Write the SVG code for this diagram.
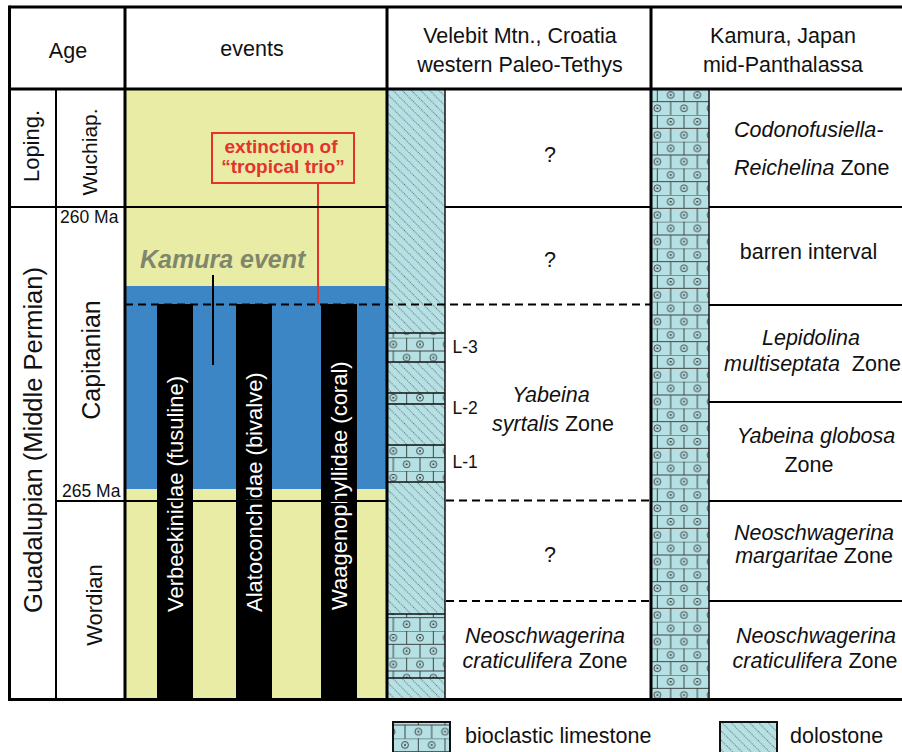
<svg xmlns="http://www.w3.org/2000/svg" width="902" height="752" viewBox="0 0 902 752">
<style>
text{font-family:"Liberation Sans",Arial,sans-serif;fill:#111;}
.h{font-size:21.5px;text-anchor:middle;}
.c{text-anchor:middle;}
.z{font-size:21.5px;}
.i{font-style:italic;}
.sm{font-size:17.5px;}
.bar{font-size:22px;fill:#fff;}
.thick{stroke:#000;stroke-width:3;fill:none;}
.mid{stroke:#000;stroke-width:2;fill:none;}
.thin{stroke:#111;stroke-width:1.5;fill:none;}
.dash{stroke:#000;stroke-width:1.8;stroke-dasharray:8 5;fill:none;}
</style>
<defs>
<pattern id="dolo" patternUnits="userSpaceOnUse" width="6.5" height="6.5" patternTransform="rotate(45)">
<rect width="6.5" height="6.5" fill="#b6e1e4"/>
<line x1="0" y1="0.6" x2="6.5" y2="0.6" stroke="#333" stroke-width="0.8" stroke-dasharray="0.9 1.27"/>
</pattern>
<g id="tile">
<rect width="26.667" height="26.667" fill="#b6e1e4"/>
<g stroke="#333" stroke-width="0.9" fill="none">
<line x1="0" y1="0" x2="26.667" y2="0"/>
<line x1="0" y1="13.333" x2="26.667" y2="13.333"/>
<line x1="13.333" y1="0" x2="13.333" y2="13.333"/>
<line x1="0" y1="13.333" x2="0" y2="26.667"/>
<line x1="26.667" y1="13.333" x2="26.667" y2="26.667"/>
<circle cx="0" cy="6.667" r="3.4"/>
<circle cx="26.667" cy="6.667" r="3.4"/>
<circle cx="13.333" cy="20" r="3.4"/>
</g>
<g fill="#333">
<circle cx="0" cy="6.667" r="1"/>
<circle cx="26.667" cy="6.667" r="1"/>
<circle cx="13.333" cy="20" r="1"/>
</g>
</g>
<pattern id="limeK" patternUnits="userSpaceOnUse" x="644" y="88.333" width="26.667" height="26.667"><use href="#tile"/></pattern>
<pattern id="limeV" patternUnits="userSpaceOnUse" x="393.333" y="444.333" width="26.667" height="26.667"><use href="#tile"/></pattern>
<pattern id="limeL" patternUnits="userSpaceOnUse" x="405" y="738.333" width="26.667" height="26.667"><use href="#tile"/></pattern>
</defs>
<rect width="902" height="752" fill="#fff"/>

<g id="events-column">
<rect x="125" y="89" width="262" height="610" fill="#e8eca5"/>
<rect x="125" y="286" width="262" height="203" fill="#3c86c6"/>
</g>
<g id="bar-verbeekinidae">
<rect x="157" y="304" width="36" height="395" fill="#000"/>
<text class="bar" transform="translate(183,612) rotate(-90)">Verbeekinidae (fusuline)</text>
</g>
<g id="bar-alatoconchidae">
<rect x="236" y="304" width="36" height="395" fill="#000"/>
<text class="bar" transform="translate(262,612) rotate(-90)">Alatoconchidae (bivalve)</text>
</g>
<g id="bar-waagenophyllidae">
<rect x="321" y="304" width="36" height="395" fill="#000"/>
<text class="bar" transform="translate(347,610) rotate(-90)">Waagenophyllidae (coral)</text>
</g>

<g id="velebit-lithology">
<rect x="387" y="89" width="58" height="610" fill="url(#dolo)"/>
<rect x="387" y="333" width="58" height="29" fill="url(#limeV)"/>
<rect x="387" y="393" width="58" height="11" fill="url(#limeV)"/>
<rect x="387" y="445" width="58" height="37" fill="url(#limeV)"/>
<rect x="387" y="614" width="58" height="64" fill="url(#limeV)"/>
<g class="thin">
<line x1="387" y1="333" x2="445" y2="333"/><line x1="387" y1="362" x2="445" y2="362"/>
<line x1="387" y1="393" x2="445" y2="393"/><line x1="387" y1="404" x2="445" y2="404"/>
<line x1="387" y1="445" x2="445" y2="445"/><line x1="387" y1="482" x2="445" y2="482"/>
<line x1="387" y1="614" x2="445" y2="614"/><line x1="387" y1="678" x2="445" y2="678"/>
<line x1="445" y1="89" x2="445" y2="699"/>
</g>
</g>
<g id="kamura-lithology">
<rect x="651" y="89" width="58" height="610" fill="url(#limeK)"/>
<line class="thin" x1="709" y1="89" x2="709" y2="699"/>
</g>

<g id="connectors">
<line x1="213" y1="275" x2="213" y2="365" stroke="#000" stroke-width="2"/>
<line x1="318" y1="183" x2="318" y2="304" stroke="#e5322d" stroke-width="2"/>
<line class="dash" x1="125" y1="304.5" x2="651" y2="304.5"/>
<line class="dash" x1="446" y1="500.5" x2="651" y2="500.5"/>
<line class="dash" x1="446" y1="601" x2="651" y2="601"/>
</g>

<g id="grid">
<line class="mid" x1="9" y1="207" x2="387" y2="207"/>
<line class="mid" x1="445" y1="207" x2="651" y2="207"/>
<line class="mid" x1="709" y1="207" x2="902" y2="207"/>
<line class="mid" x1="56" y1="501" x2="387" y2="501"/>
<line class="mid" x1="709" y1="305" x2="902" y2="305"/>
<line class="mid" x1="709" y1="402" x2="902" y2="402"/>
<line class="mid" x1="709" y1="501" x2="902" y2="501"/>
<line class="mid" x1="709" y1="601" x2="902" y2="601"/>
<line class="mid" x1="56" y1="89" x2="56" y2="699"/>
<line class="thick" x1="9.5" y1="7" x2="902" y2="7"/>
<line class="thick" x1="9.5" y1="89" x2="902" y2="89"/>
<line class="thick" x1="9.5" y1="699.5" x2="902" y2="699.5"/>
<line class="thick" x1="9.5" y1="5.5" x2="9.5" y2="701"/>
<line class="thick" x1="125" y1="7" x2="125" y2="699"/>
<line class="thick" x1="387" y1="7" x2="387" y2="699"/>
<line class="thick" x1="651" y1="7" x2="651" y2="699"/>
</g>

<g id="headers">
<text class="h" x="68" y="58">Age</text>
<text class="h" x="252" y="56">events</text>
<text class="h" x="520" y="43">Velebit Mtn., Croatia</text>
<text class="h" x="520" y="72">western Paleo-Tethys</text>
<text class="h" x="783" y="42.5">Kamura, Japan</text>
<text class="h" x="783" y="72">mid-Panthalassa</text>
</g>

<g id="age-labels">
<text class="c" style="font-size:22px" transform="translate(39,146) rotate(-90)">Loping.</text>
<text class="c" style="font-size:21px" transform="translate(97,152) rotate(-90)">Wuchiap.</text>
<text class="c" style="font-size:25.5px" transform="translate(42,440) rotate(-90)">Guadalupian (Middle Permian)</text>
<text class="c" style="font-size:25px" transform="translate(99.5,360) rotate(-90)">Capitanian</text>
<text class="c" style="font-size:22px" transform="translate(102,605) rotate(-90)">Wordian</text>
<text class="sm" x="60" y="223">260 Ma</text>
<text class="sm" x="62" y="497">265 Ma</text>
</g>

<g id="kamura-event">
<text x="140" y="268" style="font-size:25px;font-weight:bold;font-style:italic;fill:#80866a">Kamura event</text>
</g>
<g id="extinction-box">
<rect x="212" y="133" width="142" height="50" fill="none" stroke="#e5322d" stroke-width="2"/>
<text class="c" x="281" y="153" style="font-size:19px;font-weight:bold;fill:#e5322d">extinction of</text>
<text class="c" x="283" y="173" style="font-size:19px;font-weight:bold;fill:#e5322d">“tropical trio”</text>
</g>

<g id="velebit-zones">
<text class="z c" x="550" y="162">?</text>
<text class="z c" x="550" y="267">?</text>
<text class="z c" x="550" y="562">?</text>
<text class="sm" x="452.5" y="353">L-3</text>
<text class="sm" x="452.5" y="414">L-2</text>
<text class="sm" x="452.5" y="468">L-1</text>
<text class="z c i" x="551" y="402">Yabeina</text>
<text class="z c" x="553" y="431"><tspan class="i">syrtalis</tspan> Zone</text>
<text class="z c i" x="545" y="643">Neoschwagerina</text>
<text class="z c" x="545" y="668"><tspan class="i">craticulifera</tspan> Zone</text>
</g>

<g id="kamura-zones">
<text class="z i" x="734" y="137">Codonofusiella-</text>
<text class="z" x="734" y="175"><tspan class="i">Reichelina</tspan> Zone</text>
<text class="z c" x="808.5" y="259">barren interval</text>
<text class="z c i" x="811" y="345">Lepidolina</text>
<text class="z" x="724" y="371" style="white-space:pre"><tspan class="i">multiseptata</tspan>  Zone</text>
<text class="z c i" x="816" y="443">Yabeina globosa</text>
<text class="z c" x="809" y="472">Zone</text>
<text class="z c i" x="814" y="540">Neoschwagerina</text>
<text class="z c" x="814" y="563"><tspan class="i">margaritae</tspan> Zone</text>
<text class="z c i" x="816" y="643">Neoschwagerina</text>
<text class="z c" x="815" y="668"><tspan class="i">craticulifera</tspan> Zone</text>
</g>

<g id="legend">
<rect x="393" y="722" width="57" height="40" fill="url(#limeL)" stroke="#111" stroke-width="2"/>
<text class="z" x="465" y="743">bioclastic limestone</text>
<rect x="720" y="722" width="57" height="40" fill="url(#dolo)" stroke="#111" stroke-width="2"/>
<text class="z" x="790" y="743">dolostone</text>
</g>
</svg>
